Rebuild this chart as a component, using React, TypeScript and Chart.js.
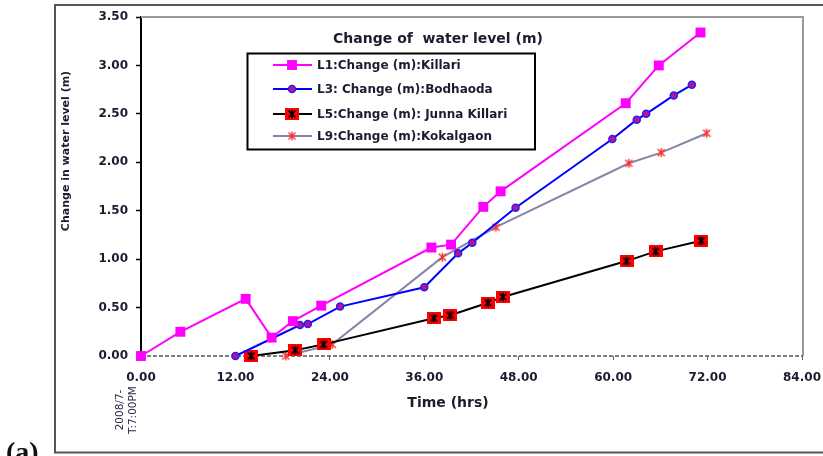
import React, { useEffect, useRef } from 'react';
import { Chart, registerables } from 'chart.js';

Chart.register(...registerables);

// ---- data (hours since start, change in water level in m) ----
const l1Time = [0, 5.0, 13.3, 16.6, 19.3, 22.9, 36.9, 39.4, 43.5, 45.7, 61.6, 65.8, 71.1];
const l1Change = [0, 0.25, 0.59, 0.19, 0.36, 0.52, 1.12, 1.15, 1.54, 1.70, 2.61, 3.00, 3.34];
const l3Time = [12.0, 20.2, 21.2, 25.3, 36.0, 40.3, 42.1, 47.6, 59.9, 63.0, 64.2, 67.7, 70.0];
const l3Change = [0, 0.32, 0.33, 0.51, 0.71, 1.06, 1.17, 1.53, 2.24, 2.44, 2.50, 2.69, 2.80];
const l5Time = [14.0, 19.6, 23.2, 37.2, 39.3, 44.1, 46.0, 61.7, 65.4, 71.2];
const l5Change = [0, 0.06, 0.12, 0.39, 0.42, 0.55, 0.61, 0.98, 1.08, 1.19];
const l9Time = [18.4, 24.3, 38.3, 45.1, 62.0, 66.1, 71.9];
const l9Change = [0, 0.12, 1.02, 1.33, 1.99, 2.10, 2.30];

const seriesLabels = [
  'L1:Change (m):Killari',
  'L3: Change (m):Bodhaoda',
  'L5:Change (m): Junna Killari',
  'L9:Change (m):Kokalgaon',
];
const chartTitle = 'Change of  water level (m)';
const xTitle = 'Time (hrs)';
const yTitle = 'Change in water level (m)';
const startLabel = ['2008/7-', 'T:7:00PM'];
const panelLabel = '(a)';

const xTicks = { min: 0, max: 84, step: 12 };
const yTicks = { min: 0, max: 3.5, step: 0.5 };

const toPoints = (xs: number[], ys: number[]) => xs.map((x, i) => ({ x, y: ys[i] }));

const TEXT = '#1c1c30';
const FONT = 'DejaVu Sans';

function makeAsterisk(w: number, h: number, bg: string | null, fg: string, r: number, lw: number) {
  const c = document.createElement('canvas');
  c.width = w;
  c.height = h;
  const g = c.getContext('2d')!;
  if (bg) {
    g.fillStyle = bg;
    g.fillRect(0, 0, w, h);
  }
  g.strokeStyle = fg;
  g.lineWidth = lw;
  const cx = w / 2, cy = h / 2;
  g.beginPath();
  g.moveTo(cx, cy - r);
  g.lineTo(cx, cy + r);
  g.moveTo(cx - r * 0.8, cy - r * 0.8);
  g.lineTo(cx + r * 0.8, cy + r * 0.8);
  g.moveTo(cx + r * 0.8, cy - r * 0.8);
  g.lineTo(cx - r * 0.8, cy + r * 0.8);
  g.stroke();
  return c;
}

export default function App() {
  const ref = useRef<HTMLCanvasElement>(null);

  useEffect(() => {
    const canvas = ref.current!;
    const l5Marker = makeAsterisk(14, 12, '#ff0000', '#000000', 4.2, 1.6);
    const l9Marker = makeAsterisk(11, 11, null, '#ff2a2a', 4.5, 1.4);

    const decor = {
      id: 'decor',
      beforeDatasetsDraw(chart: any) {
        const { ctx, chartArea: a, scales } = chart;
        const y0 = scales.y.getPixelForValue(0);
        ctx.save();
        ctx.strokeStyle = '#9a9a9a';
        ctx.lineWidth = 2;
        ctx.beginPath();
        ctx.moveTo(a.left, a.top);
        ctx.lineTo(a.right + 1, a.top);
        ctx.lineTo(a.right + 1, y0);
        ctx.stroke();
        ctx.strokeStyle = '#555';
        ctx.lineWidth = 1.5;
        ctx.setLineDash([4, 2]);
        ctx.beginPath();
        ctx.moveTo(a.left, y0);
        ctx.lineTo(a.right + 1, y0);
        ctx.stroke();
        ctx.restore();
      },
      afterDraw(chart: any) {
        const { ctx } = chart;
        const ds = chart.data.datasets;
        ctx.save();
        // outer frame
        ctx.strokeStyle = '#555';
        ctx.lineWidth = 2;
        ctx.strokeRect(55, 5, 800, 447.5);

        // chart title
        ctx.fillStyle = TEXT;
        ctx.font = `bold 14px "${FONT}"`;
        ctx.textAlign = 'center';
        ctx.textBaseline = 'middle';
        ctx.fillText(chartTitle, 438, 39);

        // legend box
        ctx.fillStyle = '#fff';
        ctx.fillRect(247.5, 53.5, 287.5, 96);
        ctx.strokeStyle = '#000';
        ctx.lineWidth = 2;
        ctx.strokeRect(247.5, 53.5, 287.5, 96);
        const rows = [65, 89, 114, 136];
        rows.forEach((ry, i) => {
          const d = ds[i];
          ctx.strokeStyle = d.borderColor;
          ctx.lineWidth = 2;
          ctx.beginPath();
          ctx.moveTo(273, ry);
          ctx.lineTo(312, ry);
          ctx.stroke();
          const mx = 292;
          if (d.pointStyle === 'rect') {
            const s = d.pointRadius * Math.SQRT1_2;
            ctx.fillStyle = d.pointBackgroundColor;
            ctx.fillRect(mx - s, ry - s, 2 * s, 2 * s);
          } else if (d.pointStyle === 'circle') {
            ctx.beginPath();
            ctx.arc(mx, ry, d.pointRadius, 0, Math.PI * 2);
            ctx.fillStyle = d.pointBackgroundColor;
            ctx.fill();
            ctx.lineWidth = d.pointBorderWidth;
            ctx.strokeStyle = d.pointBorderColor;
            ctx.stroke();
          } else {
            const img = d.pointStyle as HTMLCanvasElement;
            ctx.drawImage(img, mx - img.width / 2, ry - img.height / 2);
          }
          ctx.fillStyle = TEXT;
          ctx.font = `bold 12px "${FONT}"`;
          ctx.textAlign = 'left';
          ctx.textBaseline = 'middle';
          ctx.fillText(seriesLabels[i], 317, ry + 1);
        });

        // axis titles
        ctx.fillStyle = TEXT;
        ctx.font = `bold 14px "${FONT}"`;
        ctx.textAlign = 'center';
        ctx.textBaseline = 'middle';
        ctx.fillText(xTitle, 448, 403);

        ctx.save();
        ctx.translate(66, 151);
        ctx.rotate(-Math.PI / 2);
        ctx.font = `bold 11px "${FONT}"`;
        ctx.fillText(yTitle, 0, 0);
        ctx.restore();

        // start date label under 0.00
        ctx.save();
        ctx.font = `10.5px "${FONT}"`;
        ctx.fillStyle = '#2a2a48';
        ctx.translate(0, 410);
        ctx.rotate(-Math.PI / 2);
        ctx.textAlign = 'center';
        ctx.textBaseline = 'middle';
        ctx.fillText(startLabel[0], 0, 120);
        ctx.fillText(startLabel[1], 0, 133);
        ctx.restore();

        // panel label
        ctx.fillStyle = '#111';
        ctx.font = 'bold 28px "Liberation Serif"';
        ctx.textAlign = 'left';
        ctx.textBaseline = 'alphabetic';
        ctx.fillText(panelLabel, 6, 461);
        ctx.restore();
      },
    };

    const chart = new Chart(canvas, {
      type: 'line',
      data: {
        datasets: [
          {
            label: seriesLabels[0],
            data: toPoints(l1Time, l1Change),
            borderColor: '#ff00ff',
            borderWidth: 2,
            pointStyle: 'rect',
            pointRadius: 7,
            pointBackgroundColor: '#ff00ff',
            pointBorderColor: '#ff00ff',
            pointBorderWidth: 0,
            clip: false,
          },
          {
            label: seriesLabels[1],
            data: toPoints(l3Time, l3Change),
            borderColor: '#0000ff',
            borderWidth: 2,
            pointStyle: 'circle',
            pointRadius: 3.5,
            pointBackgroundColor: '#c0108a',
            pointBorderColor: '#2020ff',
            pointBorderWidth: 1.5,
            clip: false,
          },
          {
            label: seriesLabels[2],
            data: toPoints(l5Time, l5Change),
            borderColor: '#000000',
            borderWidth: 2,
            pointStyle: l5Marker,
            pointRadius: 6,
            clip: false,
          },
          {
            label: seriesLabels[3],
            data: toPoints(l9Time, l9Change),
            borderColor: '#8585a8',
            borderWidth: 2,
            pointStyle: l9Marker,
            pointRadius: 5,
            clip: false,
          },
        ] as any,
      },
      options: {
        animation: false,
        responsive: false,
        devicePixelRatio: 1,
        layout: { padding: { left: 0, top: 17, right: 21, bottom: 0 } },
        plugins: { legend: { display: false }, title: { display: false }, tooltip: { enabled: false } },
        elements: { line: { tension: 0 } },
        scales: {
          x: {
            type: 'linear',
            min: xTicks.min,
            max: xTicks.max,
            afterFit: (s: any) => {
              s.height = 100;
              s.paddingLeft = 0;
              s.paddingRight = 0;
            },
            ticks: {
              stepSize: xTicks.step,
              callback: (v: any) => Number(v).toFixed(2),
              font: { family: FONT, size: 12, weight: 'bold' },
              color: TEXT,
              padding: 11,
              maxRotation: 0,
              autoSkip: false,
            },
            grid: { drawOnChartArea: false, drawTicks: true, tickLength: 4, tickColor: '#666', tickWidth: 1 },
            border: { display: false },
          },
          y: {
            type: 'linear',
            min: yTicks.min,
            max: yTicks.max,
            afterFit: (s: any) => {
              s.width = 141;
              s.paddingTop = 0;
              s.paddingBottom = 0;
            },
            ticks: {
              stepSize: yTicks.step,
              callback: (v: any) => Number(v).toFixed(2),
              font: { family: FONT, size: 12, weight: 'bold' },
              color: TEXT,
              padding: 8,
            },
            grid: { drawOnChartArea: false, drawTicks: true, tickLength: 5, tickColor: '#000', tickWidth: 1.5 },
            border: { display: true, color: '#000', width: 2 },
          },
        },
      } as any,
      plugins: [decor],
    });
    return () => chart.destroy();
  }, []);

  return (
    <div style={{ position: 'fixed', left: 0, top: 0, width: 823, height: 456, background: '#fff', overflow: 'hidden' }}>
      <canvas ref={ref} width={823} height={456} style={{ width: 823, height: 456, display: 'block' }} />
    </div>
  );
}
